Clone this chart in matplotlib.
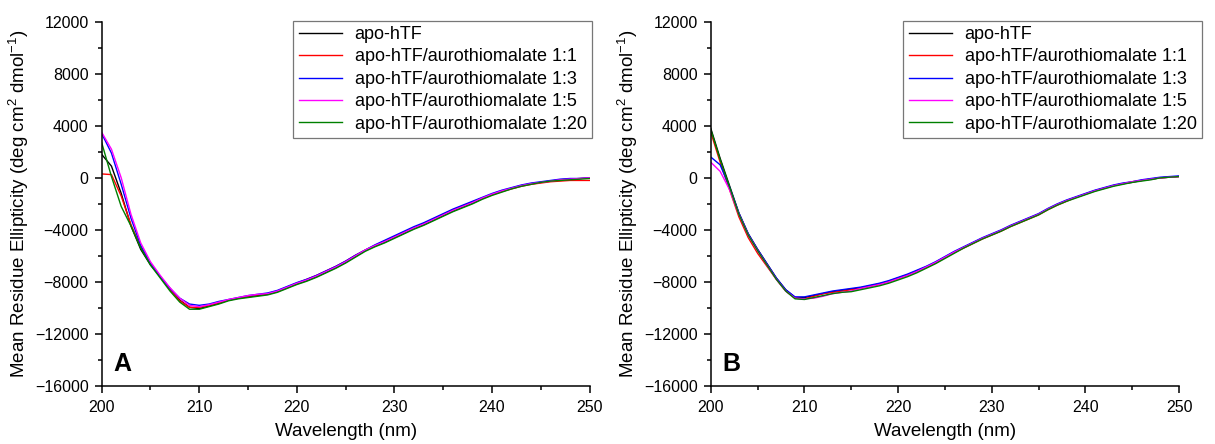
import matplotlib
matplotlib.use('Agg')
import matplotlib.pyplot as plt
from matplotlib.ticker import MultipleLocator

plt.rcParams['font.family'] = ['Liberation Sans', 'DejaVu Sans']
plt.rcParams['mathtext.default'] = 'regular'

# wavelengths (nm), 1 nm steps
wl = list(range(200, 251))

labels = ['apo-hTF', 'apo-hTF/aurothiomalate 1:1', 'apo-hTF/aurothiomalate 1:3',
          'apo-hTF/aurothiomalate 1:5', 'apo-hTF/aurothiomalate 1:20']
colors = ['black', 'red', 'blue', 'magenta', 'green']

# Panel A
a_apo = [1800, 900, -1200, -3700, -5500, -6700, -7600, -8500, -9400, -9950,
         -10050, -9850, -9650, -9400, -9250, -9150, -9050, -8950, -8750, -8450,
         -8150, -7900, -7600, -7250, -6900, -6500, -6050, -5600, -5250, -4950,
         -4600, -4250, -3900, -3600, -3250, -2900, -2550, -2250, -1950, -1600,
         -1300, -1050, -800, -600, -450, -350, -250, -150, -100, -50, 0]
a_11 = [300, 250, -1400, -3600, -5300, -6600, -7600, -8600, -9450, -9950,
        -9950, -9800, -9600, -9400, -9250, -9100, -9000, -8900, -8700, -8400,
        -8100, -7800, -7500, -7150, -6800, -6400, -5950, -5550, -5200, -4850,
        -4500, -4150, -3850, -3500, -3150, -2800, -2450, -2150, -1850, -1550,
        -1300, -1050, -850, -650, -500, -400, -300, -250, -200, -200, -200]
a_13 = [3400, 1900, -500, -3100, -5200, -6600, -7600, -8500, -9250, -9700,
        -9800, -9700, -9500, -9350, -9200, -9050, -8950, -8850, -8650, -8350,
        -8050, -7800, -7500, -7150, -6800, -6400, -5950, -5550, -5150, -4800,
        -4450, -4100, -3750, -3450, -3100, -2750, -2400, -2100, -1800, -1500,
        -1200, -950, -750, -550, -400, -300, -200, -100, -50, -50, 0]
a_15 = [3500, 2200, 0, -2800, -5000, -6450, -7500, -8450, -9250, -9800,
        -9900, -9750, -9550, -9350, -9200, -9050, -8950, -8900, -8700, -8400,
        -8100, -7850, -7550, -7200, -6850, -6450, -6000, -5550, -5200, -4900,
        -4550, -4200, -3850, -3550, -3200, -2850, -2500, -2200, -1900, -1550,
        -1250, -1000, -800, -600, -450, -350, -250, -150, -100, -50, 0]
a_120 = [2700, 100, -2200, -3700, -5400, -6700, -7700, -8700, -9550, -10100,
         -10100, -9900, -9700, -9450, -9300, -9200, -9100, -9000, -8800, -8500,
         -8200, -7950, -7650, -7300, -6950, -6550, -6100, -5650, -5300, -5000,
         -4650, -4300, -3950, -3650, -3300, -2950, -2600, -2300, -2000, -1650,
         -1350, -1100, -850, -650, -500, -350, -250, -200, -150, -100, -50]

# Panel B
b_apo = [3800, 1500, -600, -2700, -4300, -5500, -6600, -7700, -8600, -9200,
         -9200, -9050, -8900, -8750, -8650, -8550, -8450, -8300, -8150, -7950,
         -7700, -7450, -7150, -6850, -6500, -6100, -5700, -5350, -5000, -4650,
         -4350, -4050, -3700, -3400, -3100, -2800, -2400, -2050, -1750, -1500,
         -1250, -1000, -800, -600, -450, -350, -200, -100, 0, 50, 100]
b_11 = [3500, 1200, -900, -3000, -4600, -5800, -6800, -7800, -8700, -9250,
        -9300, -9100, -8900, -8800, -8700, -8600, -8500, -8350, -8200, -8000,
        -7750, -7500, -7200, -6900, -6550, -6150, -5750, -5400, -5050, -4700,
        -4400, -4100, -3750, -3450, -3150, -2850, -2450, -2100, -1800, -1500,
        -1250, -1000, -800, -600, -450, -300, -200, -100, 0, 50, 100]
b_13 = [1600, 1000, -700, -2700, -4300, -5500, -6600, -7700, -8600, -9150,
        -9150, -9000, -8850, -8700, -8600, -8500, -8400, -8250, -8100, -7900,
        -7650, -7400, -7100, -6800, -6450, -6050, -5650, -5300, -4950, -4600,
        -4300, -4000, -3650, -3350, -3050, -2750, -2350, -2000, -1700, -1450,
        -1200, -950, -750, -550, -400, -300, -150, -50, 50, 100, 150]
b_15 = [1200, 500, -900, -2800, -4400, -5600, -6700, -7800, -8700, -9250,
        -9300, -9250, -9100, -8900, -8800, -8700, -8500, -8350, -8200, -8000,
        -7750, -7500, -7200, -6850, -6500, -6100, -5700, -5350, -5000, -4650,
        -4350, -4050, -3700, -3400, -3100, -2800, -2400, -2050, -1750, -1500,
        -1250, -1000, -800, -600, -450, -300, -200, -100, 0, 50, 100]
b_120 = [3700, 1400, -700, -2800, -4400, -5600, -6700, -7800, -8700, -9300,
         -9350, -9200, -9050, -8900, -8800, -8750, -8600, -8450, -8300, -8100,
         -7850, -7600, -7300, -6950, -6600, -6200, -5800, -5400, -5050, -4700,
         -4400, -4100, -3750, -3450, -3150, -2850, -2450, -2100, -1800, -1550,
         -1300, -1050, -850, -650, -500, -350, -250, -150, 0, 50, 100]

panel_a = [a_apo, a_11, a_13, a_15, a_120]
panel_b = [b_apo, b_11, b_13, b_15, b_120]

fig = plt.figure(figsize=(12.15, 4.44), dpi=100)
ax_a = fig.add_axes([0.0837, 0.1306, 0.4016, 0.8205])
ax_b = fig.add_axes([0.585, 0.1306, 0.3854, 0.8205])

for ax, series, letter, leg_x in [(ax_a, panel_a, 'A', 1.005), (ax_b, panel_b, 'B', 1.049)]:
    for vals, lab, col in zip(series, labels, colors):
        ax.plot(wl, vals, color=col, lw=1.0, label=lab)
    ax.set_xlim(200, 250)
    ax.set_ylim(-16000, 12000)
    ax.xaxis.set_major_locator(MultipleLocator(10))
    ax.xaxis.set_minor_locator(MultipleLocator(5))
    ax.yaxis.set_major_locator(MultipleLocator(4000))
    ax.yaxis.set_minor_locator(MultipleLocator(2000))
    ax.spines['top'].set_visible(False)
    ax.spines['right'].set_visible(False)
    for s in ['left', 'bottom']:
        ax.spines[s].set_linewidth(1.1)
    ax.tick_params(which='major', direction='out', length=5, width=1.1, labelsize=11.5)
    ax.tick_params(which='minor', direction='out', length=3, width=1.1)
    ax.tick_params(axis='x', which='major', pad=5)
    ax.tick_params(axis='y', which='major', pad=4.5)
    ax.set_xlabel('Wavelength (nm)', fontsize=13.5, labelpad=6)
    ax.set_ylabel('Mean Residue Ellipticity (deg cm$^{2}$ dmol$^{-1}$)', fontsize=13.5,
                  labelpad=3)
    ax.text(0.024, 0.041, letter, transform=ax.transAxes, fontsize=18,
            fontweight='bold', va='baseline')
    leg = ax.legend(loc='upper right', bbox_to_anchor=(leg_x, 1.003), borderaxespad=0,
                    fontsize=13, frameon=True, fancybox=False, handlelength=2.4,
                    handletextpad=0.7, labelspacing=0.3, borderpad=0.3)
    leg.get_frame().set_edgecolor('#555555')
    leg.get_frame().set_linewidth(0.9)

fig.savefig('out.png', dpi=100)
